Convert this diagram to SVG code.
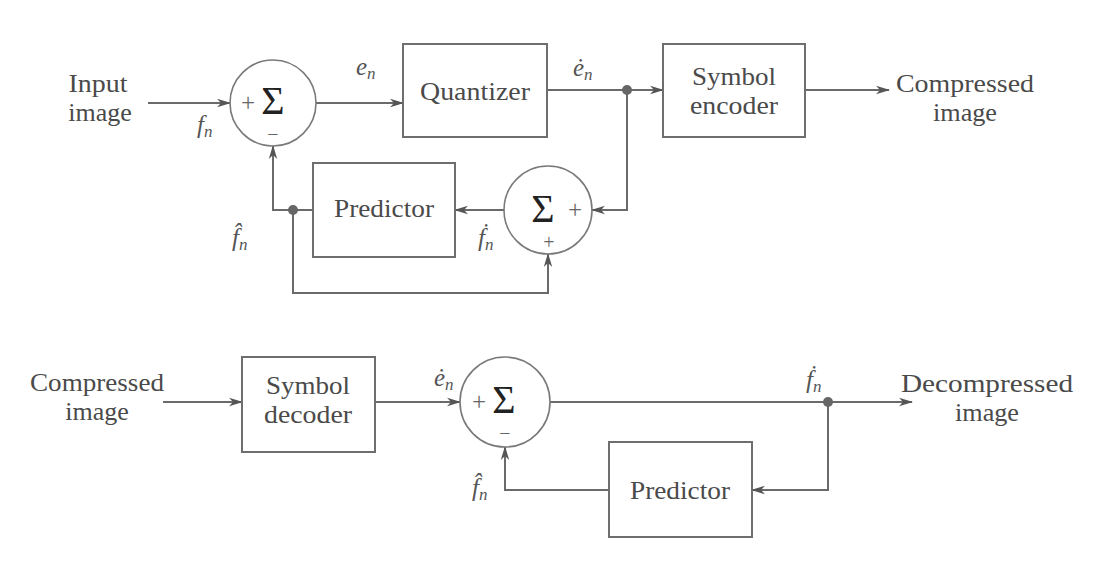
<svg xmlns="http://www.w3.org/2000/svg" width="1096" height="563" viewBox="0 0 1096 563">
<defs>
<marker id="ah" markerWidth="14" markerHeight="10" refX="13" refY="5" orient="auto" markerUnits="userSpaceOnUse">
<path d="M0,0.8 L14,5 L0,9.2 L4,5 z" fill="#555"/>
</marker>
<style>
.box{fill:none;stroke:#6e6e6e;stroke-width:2}
.sum{fill:none;stroke:#7a7a7a;stroke-width:1.6}
.ln{fill:none;stroke:#6a6a6a;stroke-width:2}
.lbl{font-family:"Liberation Serif",serif;font-size:26px;fill:#4a4a4a;text-anchor:middle}
.sig{font-family:"Liberation Serif",serif;font-size:40px;fill:#222;text-anchor:middle}
.sgn{font-family:"Liberation Serif",serif;font-size:20px;fill:#666;text-anchor:middle}
.sgl{font-family:"Liberation Serif",serif;font-size:25px;fill:#666;text-anchor:middle}
.var{font-family:"Liberation Serif",serif;font-style:italic;font-size:25px;fill:#555}
.sub{font-size:17px}
.dot{fill:#666}
</style>
</defs>
<rect width="1096" height="563" fill="#ffffff"/>

<g id="connectors">
<line class="ln" x1="148" y1="103" x2="230" y2="103" marker-end="url(#ah)"/>
<line class="ln" x1="316" y1="103" x2="403" y2="103" marker-end="url(#ah)"/>
<line class="ln" x1="547" y1="90" x2="663" y2="90" marker-end="url(#ah)"/>
<line class="ln" x1="805" y1="90" x2="889" y2="90" marker-end="url(#ah)"/>
<polyline class="ln" points="627,90 627,210 592,210" marker-end="url(#ah)"/>
<line class="ln" x1="504" y1="210" x2="455" y2="210" marker-end="url(#ah)"/>
<polyline class="ln" points="313,210 273,210 273,146" marker-end="url(#ah)"/>
<polyline class="ln" points="293,210 293,293 548,293 548,254" marker-end="url(#ah)"/>
<circle class="dot" cx="627" cy="90" r="5"/>
<circle class="dot" cx="293" cy="210" r="5"/>

<line class="ln" x1="163" y1="402" x2="242" y2="402" marker-end="url(#ah)"/>
<line class="ln" x1="375" y1="402" x2="460" y2="402" marker-end="url(#ah)"/>
<line class="ln" x1="550" y1="402" x2="912" y2="402" marker-end="url(#ah)"/>
<polyline class="ln" points="828,402 828,490 752,490" marker-end="url(#ah)"/>
<polyline class="ln" points="609,490 505,490 505,447" marker-end="url(#ah)"/>
<circle class="dot" cx="828" cy="402" r="5"/>
</g>

<g id="input-label">
<text class="lbl" x="98" y="92" textLength="59" lengthAdjust="spacingAndGlyphs">Input</text>
<text class="lbl" x="100" y="121">image</text>
<text class="var" x="197" y="133">f<tspan class="sub" dy="4">n</tspan></text>
</g>

<g id="sum1">
<circle class="sum" cx="273" cy="103" r="43"/>
<text class="sgl" x="248" y="111">+</text>
<text class="sig" x="273" y="114">Σ</text>
<text class="sgn" x="273" y="141">−</text>
</g>

<g id="en-label">
<text class="var" x="356" y="75">e<tspan class="sub" dy="4">n</tspan></text>
</g>

<g id="quantizer">
<rect class="box" x="403" y="44" width="144" height="93"/>
<text class="lbl" x="475" y="100" textLength="110" lengthAdjust="spacingAndGlyphs">Quantizer</text>
</g>

<g id="edot-label">
<text class="var" x="573" y="76">ė<tspan class="sub" dy="4">n</tspan></text>
</g>

<g id="symbol-encoder">
<rect class="box" x="663" y="44" width="142" height="93"/>
<text class="lbl" x="734" y="85" textLength="84" lengthAdjust="spacingAndGlyphs">Symbol</text>
<text class="lbl" x="734" y="114" textLength="88" lengthAdjust="spacingAndGlyphs">encoder</text>
</g>

<g id="compressed-out">
<text class="lbl" x="965" y="92" textLength="138" lengthAdjust="spacingAndGlyphs">Compressed</text>
<text class="lbl" x="965" y="121" textLength="64" lengthAdjust="spacingAndGlyphs">image</text>
</g>

<g id="predictor1">
<rect class="box" x="313" y="163" width="142" height="94"/>
<text class="lbl" x="384" y="217" textLength="100" lengthAdjust="spacingAndGlyphs">Predictor</text>
</g>

<g id="sum2">
<circle class="sum" cx="548" cy="210" r="44"/>
<text class="sig" x="543" y="222">Σ</text>
<text class="sgl" x="575" y="218">+</text>
<text class="sgn" x="549" y="249">+</text>
</g>

<g id="fhat1-label">
<text class="var" x="232" y="246">f&#x302;<tspan class="sub" dy="4">n</tspan></text>
</g>

<g id="fdot1-label">
<text class="var" x="478" y="246">f&#x307;<tspan class="sub" dy="4">n</tspan></text>
</g>

<g id="compressed-in">
<text class="lbl" x="97" y="391" textLength="134" lengthAdjust="spacingAndGlyphs">Compressed</text>
<text class="lbl" x="97" y="420">image</text>
</g>

<g id="symbol-decoder">
<rect class="box" x="242" y="357" width="133" height="95"/>
<text class="lbl" x="308" y="394" textLength="84" lengthAdjust="spacingAndGlyphs">Symbol</text>
<text class="lbl" x="308" y="423" textLength="88" lengthAdjust="spacingAndGlyphs">decoder</text>
</g>

<g id="edot2-label">
<text class="var" x="434" y="386">ė<tspan class="sub" dy="4">n</tspan></text>
</g>

<g id="sum3">
<circle class="sum" cx="505" cy="402" r="45"/>
<text class="sgl" x="479" y="410">+</text>
<text class="sig" x="504" y="413">Σ</text>
<text class="sgn" x="505" y="440">−</text>
</g>

<g id="fdot2-label">
<text class="var" x="806" y="388">f&#x307;<tspan class="sub" dy="4">n</tspan></text>
</g>

<g id="decompressed-out">
<text class="lbl" x="987" y="392" textLength="172" lengthAdjust="spacingAndGlyphs">Decompressed</text>
<text class="lbl" x="987" y="421" textLength="64" lengthAdjust="spacingAndGlyphs">image</text>
</g>

<g id="predictor2">
<rect class="box" x="609" y="442" width="143" height="95"/>
<text class="lbl" x="680" y="499" textLength="100" lengthAdjust="spacingAndGlyphs">Predictor</text>
</g>

<g id="fhat2-label">
<text class="var" x="472" y="496">f&#x302;<tspan class="sub" dy="4">n</tspan></text>
</g>
</svg>
